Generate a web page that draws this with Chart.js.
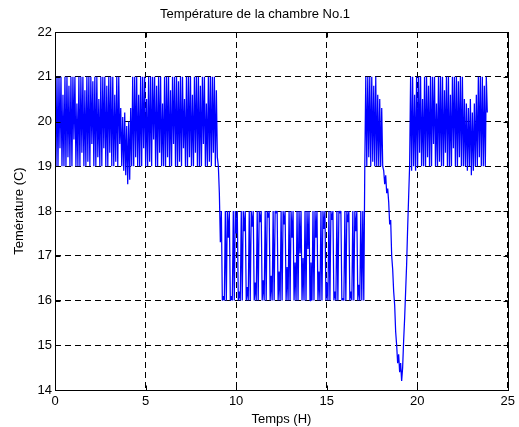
<!DOCTYPE html>
<html>
<head>
<meta charset="utf-8">
<script src="https://cdn.jsdelivr.net/npm/chart.js@4"></script>
<style>
  body { margin: 0; background: #fff; }
  canvas { display: block; }
</style>
</head>
<body>
<canvas id="myChart" width="519" height="427"></canvas>
<script>
// Temperatura de la chambre No.1, muestras cada 0.055 h
var paso = 0.055;

// 0.000 h - 9.020 h : régimen 19..21
var fase1 = [
  20.0, 19, 21, 19, 21, 19.4, 21, 19, 20.6, 19, 21, 19, 21, 19.2, 20.8, 19, 21, 19, 21, 19.6,
  21, 19, 20.4, 19, 21, 19, 21, 19.3, 21, 19, 20.7, 19, 21, 19.1, 21, 19, 21, 19.5, 20.9, 19,
  21, 19, 21, 19.2, 20.5, 19, 21, 19, 21, 19.4, 21, 19, 20.8, 19, 21, 19.3, 21, 19, 21, 19,
  20.6, 19.1, 21, 19, 21, 19.5, 20.3, 19, 20.1, 18.9, 20.2, 18.8, 19.9, 18.6, 20.0, 18.7, 20.3, 19, 21, 19,
  21, 19.2, 21, 19, 20.6, 19, 21, 19, 21, 19.4, 21, 19, 20.5, 19, 21, 19.1, 21, 19, 21, 19.6,
  21, 19, 20.8, 19, 21, 19.3, 21, 19, 20.4, 19, 21, 19, 21, 19.2, 21, 19, 20.7, 19, 21, 19.5,
  21, 19, 21, 19, 20.9, 19.1, 21, 19, 21, 19.4, 20.5, 19, 21, 19, 21, 19.2, 21, 19, 20.6, 19,
  21, 19.3, 21, 19, 21, 19, 20.8, 19, 21, 19.5, 21, 19, 20.4, 19, 21, 19.1, 21, 19, 21, 19.3,
  21, 19, 20.7, 19.2, 19.0
];

// 9.075 h - 17.050 h : régimen 16..18
var fase2 = [
  18.4, 17.3, 18, 16, 16.1, 16, 18, 16,
  18, 17.4, 18, 16, 16.1, 16, 18, 16,
  18, 17.5, 18, 16, 16.2, 16, 18, 16,
  18, 17.55, 18, 16, 16.3, 16, 18, 16,
  18, 17.65, 18, 16, 16.4, 16, 18, 16,
  18, 17.75, 18, 16, 16.45, 16, 18, 16,
  18, 17.85, 18, 16, 16.55, 16, 18, 16,
  18, 17.95, 18, 16, 16.65, 16, 18, 16,
  18, 17.7, 18, 16, 16.75, 16, 18, 16,
  18, 17.4, 18, 16, 16.85, 16, 18, 16,
  18, 17.05, 18, 16, 16.95, 16, 18, 16,
  18, 17.15, 18, 16, 16.85, 16, 18, 16,
  18, 17.4, 18, 16, 16.65, 16, 18, 16,
  18, 17.6, 18, 16, 16.4, 16, 18, 16,
  18, 17.8, 18, 16, 16.2, 16, 18, 16,
  18, 17.95, 18, 16, 16.05, 16, 18, 16,
  18, 17.75, 18, 16, 16.2, 16, 18, 16,
  18, 17.55, 18, 16, 16.35, 16, 18, 16,
  18, 16
];

// 17.105 h - 19.580 h : subida, caída hasta 14.2 y recuperación
var fase3 = [
  19.0, 21, 19, 21, 19.2, 21, 19, 21, 19.1, 20.8, 19, 21, 19, 20.6, 19, 20.5, 19, 20.3, 19,
  18.9, 18.6, 18.8, 18.4, 18.5, 18.2, 17.7, 17.8, 17.0, 16.7, 16.2, 15.9, 15.3, 15.0, 14.6, 14.8, 14.4, 14.6, 14.2,
  14.5, 15.1, 15.6, 16.2, 16.8, 17.6, 18.3, 19.0
];

// 19.635 h - 23.870 h : régimen 19..21
var fase4 = [
  21, 18.9, 21, 19, 20.6, 18.9, 21, 19, 21, 19.3, 21, 19, 20.5, 19, 21, 19, 21, 19.2, 20.8, 19,
  21, 19, 21, 19.5, 21, 19, 20.4, 19, 21, 19.1, 21, 19, 21, 19, 20.7, 19.3, 21, 19, 21, 19,
  20.6, 19, 21, 19.4, 21, 19, 21, 19, 20.9, 19.2, 21, 19, 21, 19, 20.5, 19, 20.4, 18.9, 20.3, 19,
  20.5, 18.8, 20.2, 18.9, 20.4, 19, 20.6, 19, 21, 19.2, 21, 19, 21, 19, 20.8, 19, 21, 20.2
];

var ticksX = [0, 5, 10, 15, 20, 25];
var ticksY = [14, 15, 16, 17, 18, 19, 20, 21, 22];

var temperaturas = fase1.concat(fase2, fase3, fase4);
var puntos = [];
for (var i = 0; i < temperaturas.length; i++) {
  puntos.push({ x: Math.round(i * paso * 1000) / 1000, y: temperaturas[i] });
}

var fuente = { family: "'Liberation Sans', Arial, sans-serif", size: 13 };

// marco negro y marcas hacia dentro, estilo matlab
var marco = {
  id: 'marco',
  afterDraw: function (chart) {
    var ctx = chart.ctx;
    var a = chart.chartArea;
    var l = Math.round(a.left) + 0.5, r = Math.round(a.right) + 0.5;
    var t = Math.round(a.top) + 0.5, b = Math.round(a.bottom) + 0.5;
    ctx.save();
    ctx.setLineDash([]);
    ctx.strokeStyle = '#000';
    ctx.lineWidth = 1;
    ctx.strokeRect(l, t, r - l, b - t);
    ctx.beginPath();
    ticksX.forEach(function (v) {
      var px = Math.round(chart.scales.x.getPixelForValue(v)) + 0.5;
      ctx.moveTo(px, t); ctx.lineTo(px, t + 5);
      ctx.moveTo(px, b); ctx.lineTo(px, b - 5);
    });
    ticksY.forEach(function (v) {
      var py = Math.round(chart.scales.y.getPixelForValue(v)) + 0.5;
      ctx.moveTo(l, py); ctx.lineTo(l + 5, py);
      ctx.moveTo(r, py); ctx.lineTo(r - 5, py);
    });
    ctx.stroke();
    ctx.restore();
  }
};

var ctx = document.getElementById('myChart').getContext('2d');
var myChart = new Chart(ctx, {
  type: 'line',
  data: {
    datasets: [{
      data: puntos,
      borderColor: '#0000ff',
      borderWidth: 1.25,
      borderJoinStyle: 'bevel',
      pointRadius: 0,
      tension: 0,
      fill: false
    }]
  },
  options: {
    responsive: false,
    animation: false,
    layout: { padding: { left: 0, right: 9, top: 0, bottom: 0 } },
    plugins: {
      legend: { display: false },
      tooltip: { enabled: false },
      title: {
        display: true,
        text: 'Température de la chambre No.1',
        color: '#000',
        font: { family: fuente.family, size: 13, weight: 'normal' },
        padding: { top: 7, bottom: 9.4 }
      }
    },
    scales: {
      x: {
        type: 'linear',
        min: 0,
        max: 25,
        afterBuildTicks: function (s) { s.ticks = ticksX.map(function (v) { return { value: v }; }); },
        afterFit: function (s) { s.height = 37; },
        ticks: { color: '#000', font: fuente, padding: 4, maxRotation: 0 },
        grid: { color: '#000', lineWidth: 1, drawTicks: false },
        border: { display: false, dash: [6, 4] },
        title: { display: true, text: 'Temps (H)', color: '#000', font: fuente, padding: { top: 0, bottom: 0 } }
      },
      y: {
        min: 14,
        max: 22,
        afterBuildTicks: function (s) { s.ticks = ticksY.map(function (v) { return { value: v }; }); },
        afterFit: function (s) { s.width = 55; },
        ticks: { color: '#000', font: fuente, padding: 3 },
        grid: { color: '#000', lineWidth: 1, drawTicks: false },
        border: { display: false, dash: [6, 4] },
        title: { display: true, text: 'Temérature (C)', color: '#000', font: fuente, padding: { top: 12, bottom: 0 } }
      }
    }
  },
  plugins: [marco]
});
</script>
</body>
</html>
